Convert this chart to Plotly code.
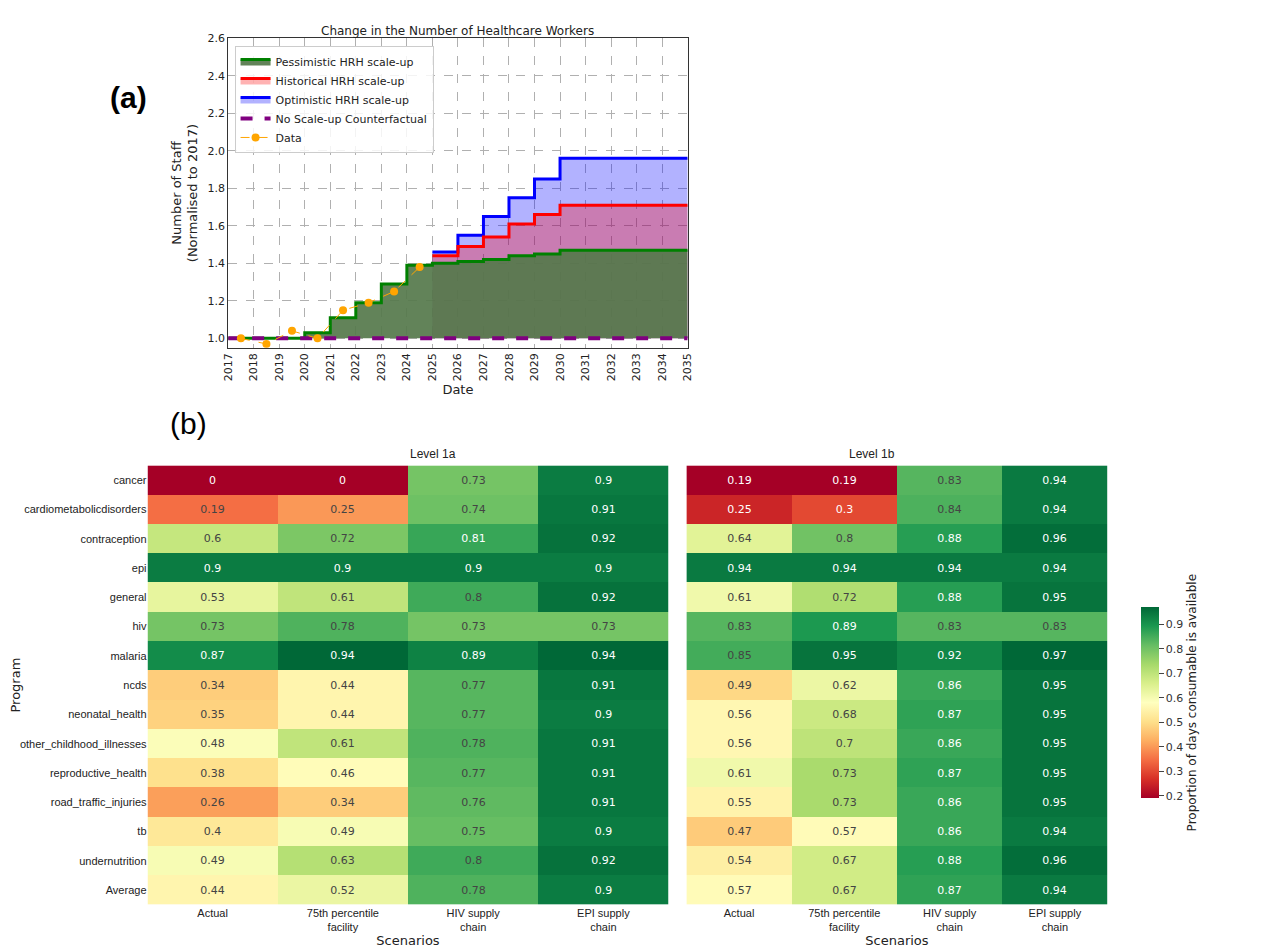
import plotly.graph_objects as go

# ---- panel (a) data ----
step_years = [2017, 2018, 2019, 2020, 2021, 2022, 2023, 2024, 2025, 2026, 2027, 2028, 2029, 2030, 2031, 2032, 2033, 2034, 2035]
pessimistic = [1.0, 1.0, 1.0, 1.03, 1.11, 1.19, 1.29, 1.39, 1.40, 1.41, 1.42, 1.44, 1.45, 1.47, 1.47, 1.47, 1.47, 1.47, 1.47]
hist_years = [2025, 2026, 2027, 2028, 2029, 2030, 2031, 2032, 2033, 2034, 2035]
historical = [1.44, 1.49, 1.54, 1.61, 1.66, 1.71, 1.71, 1.71, 1.71, 1.71, 1.71]
optimistic = [1.46, 1.55, 1.65, 1.75, 1.85, 1.96, 1.96, 1.96, 1.96, 1.96, 1.96]
data_years = [2017.5, 2018.5, 2019.5, 2020.5, 2021.5, 2022.5, 2023.5, 2024.5]
data_vals = [1.0, 0.97, 1.04, 1.0, 1.15, 1.19, 1.25, 1.38]

# ---- panel (b) data ----
programs = ["cancer", "cardiometabolicdisorders", "contraception", "epi", "general", "hiv", "malaria",
            "ncds", "neonatal_health", "other_childhood_illnesses", "reproductive_health",
            "road_traffic_injuries", "tb", "undernutrition", "Average"]
scenarios = ["Actual", "75th percentile<br>facility", "HIV supply<br>chain", "EPI supply<br>chain"]
level1a = [[0, 0, 0.73, 0.9], [0.19, 0.25, 0.74, 0.91], [0.6, 0.72, 0.81, 0.92], [0.9, 0.9, 0.9, 0.9],
           [0.53, 0.61, 0.8, 0.92], [0.73, 0.78, 0.73, 0.73], [0.87, 0.94, 0.89, 0.94], [0.34, 0.44, 0.77, 0.91],
           [0.35, 0.44, 0.77, 0.9], [0.48, 0.61, 0.78, 0.91], [0.38, 0.46, 0.77, 0.91], [0.26, 0.34, 0.76, 0.91],
           [0.4, 0.49, 0.75, 0.9], [0.49, 0.63, 0.8, 0.92], [0.44, 0.52, 0.78, 0.9]]
level1b = [[0.19, 0.19, 0.83, 0.94], [0.25, 0.3, 0.84, 0.94], [0.64, 0.8, 0.88, 0.96], [0.94, 0.94, 0.94, 0.94],
           [0.61, 0.72, 0.88, 0.95], [0.83, 0.89, 0.83, 0.83], [0.85, 0.95, 0.92, 0.97], [0.49, 0.62, 0.86, 0.95],
           [0.56, 0.68, 0.87, 0.95], [0.56, 0.7, 0.86, 0.95], [0.61, 0.73, 0.87, 0.95], [0.55, 0.73, 0.86, 0.95],
           [0.47, 0.57, 0.86, 0.94], [0.54, 0.67, 0.88, 0.96], [0.57, 0.67, 0.87, 0.94]]

fig = go.Figure()
base_y = [1.0] * len(hist_years)

fig.add_trace(go.Scatter(x=hist_years, y=base_y, mode="lines", line=dict(width=0, shape="hv"), showlegend=False, hoverinfo="skip"))
fig.add_trace(go.Scatter(x=hist_years, y=optimistic, mode="lines", line=dict(color="blue", width=3, shape="hv"),
                         fill="tonexty", fillcolor="rgba(0,0,255,0.3)", name="Optimistic HRH scale-up", legendrank=3))
fig.add_trace(go.Scatter(x=hist_years, y=base_y, mode="lines", line=dict(width=0, shape="hv"), showlegend=False, hoverinfo="skip"))
fig.add_trace(go.Scatter(x=hist_years, y=historical, mode="lines", line=dict(color="red", width=3, shape="hv"),
                         fill="tonexty", fillcolor="rgba(255,0,0,0.3)", name="Historical HRH scale-up", legendrank=2))
fig.add_trace(go.Scatter(x=step_years, y=[1.0] * len(step_years), mode="lines", line=dict(width=0, shape="hv"), showlegend=False, hoverinfo="skip"))
fig.add_trace(go.Scatter(x=step_years, y=pessimistic, mode="lines", line=dict(color="green", width=3, shape="hv"),
                         fill="tonexty", fillcolor="rgba(85,120,75,0.92)", name="Pessimistic HRH scale-up", legendrank=1))
fig.add_trace(go.Scatter(x=step_years, y=[1.0] * len(step_years), mode="lines", line=dict(color="purple", width=4, dash="dash"),
                         name="No Scale-up Counterfactual", legendrank=4))
fig.add_trace(go.Scatter(x=data_years, y=data_vals, mode="lines+markers", line=dict(color="orange", width=1, dash="dash"),
                         marker=dict(color="orange", size=8), name="Data", legendrank=5))

fig.add_trace(go.Heatmap(z=level1a, x=scenarios, y=programs, xaxis="x2", yaxis="y2", colorscale="RdYlGn",
                         zmin=0, zmax=0.94, showscale=False, texttemplate="%{z}", textfont=dict(size=11)))
fig.add_trace(go.Heatmap(z=level1b, x=scenarios, y=programs, xaxis="x3", yaxis="y3", colorscale="RdYlGn",
                         zmin=0.19, zmax=0.97, texttemplate="%{z}", textfont=dict(size=11),
                         colorbar=dict(x=0.877, xanchor="left", y=0.268, len=0.222, thickness=18, outlinewidth=0,
                                       tickvals=[0.2, 0.3, 0.4, 0.5, 0.6, 0.7, 0.8, 0.9], ticks="outside",
                                       tickfont=dict(size=11, color="#333"),
                                       title=dict(text="Proportion of days consumable is available", side="right",
                                                  font=dict(size=12)))))

grid = dict(showgrid=True, gridcolor="#b0b0b0", griddash="dash", gridwidth=1)
fig.update_layout(
    width=1280, height=949, margin=dict(l=0, r=0, t=0, b=0, autoexpand=False),
    plot_bgcolor="white", paper_bgcolor="white",
    font=dict(family="DejaVu Sans", size=11, color="#222"),
    xaxis=dict(domain=[0.172, 0.531], anchor="y", range=[2017, 2035], tickvals=list(range(2017, 2036)), automargin=False,
               tickangle=-90, title=dict(text="Date", standoff=4), showline=True, linecolor="#333", mirror=True, **grid),
    yaxis=dict(domain=[0.642, 0.968], anchor="x", range=[0.95, 2.6], tickvals=[1.0, 1.2, 1.4, 1.6, 1.8, 2.0, 2.2, 2.4, 2.6],
               tickformat=".1f", title=dict(text="Number of Staff<br>(Normalised to 2017)", standoff=6), automargin=False,
               showline=True, linecolor="#333", mirror=True, zeroline=False, **grid),
    xaxis2=dict(domain=[0.109, 0.516], anchor="y2", side="bottom", title=dict(text="Scenarios", standoff=2), automargin=False,
                tickfont=dict(family="Liberation Sans", size=11), showgrid=False),
    yaxis2=dict(domain=[0.055, 0.518], anchor="x2", autorange="reversed", title=dict(text="Program", standoff=6), automargin=False,
                tickfont=dict(family="Liberation Sans", size=11), showgrid=False),
    xaxis3=dict(domain=[0.530, 0.859], anchor="y3", title=dict(text="Scenarios", standoff=2), automargin=False,
                tickfont=dict(family="Liberation Sans", size=11), showgrid=False),
    yaxis3=dict(domain=[0.055, 0.518], anchor="x3", autorange="reversed", showticklabels=False, showgrid=False, automargin=False),
    legend=dict(x=0.177, y=0.96, xanchor="left", yanchor="top", bgcolor="rgba(255,255,255,0.85)", traceorder="normal",
                bordercolor="#ccc", borderwidth=1, font=dict(size=11), tracegroupgap=0),
    annotations=[
        dict(text="Change in the Number of Healthcare Workers", x=0.351, y=0.985, xref="paper", yref="paper",
             showarrow=False, font=dict(size=12)),
        dict(text="<b>(a)</b>", x=0.078, y=0.925, xref="paper", yref="paper", showarrow=False,
             font=dict(size=30, family="Liberation Sans", color="black")),
        dict(text="(b)", x=0.125, y=0.562, xref="paper", yref="paper", showarrow=False,
             font=dict(size=30, family="Liberation Sans", color="black")),
        dict(text="Level 1a", x=0.3125, y=0.521, xref="paper", yref="paper", yanchor="bottom", showarrow=False,
             font=dict(size=12, family="Liberation Sans")),
        dict(text="Level 1b", x=0.6945, y=0.521, xref="paper", yref="paper", yanchor="bottom", showarrow=False,
             font=dict(size=12, family="Liberation Sans")),
    ],
)
fig.write_html("out.html")
